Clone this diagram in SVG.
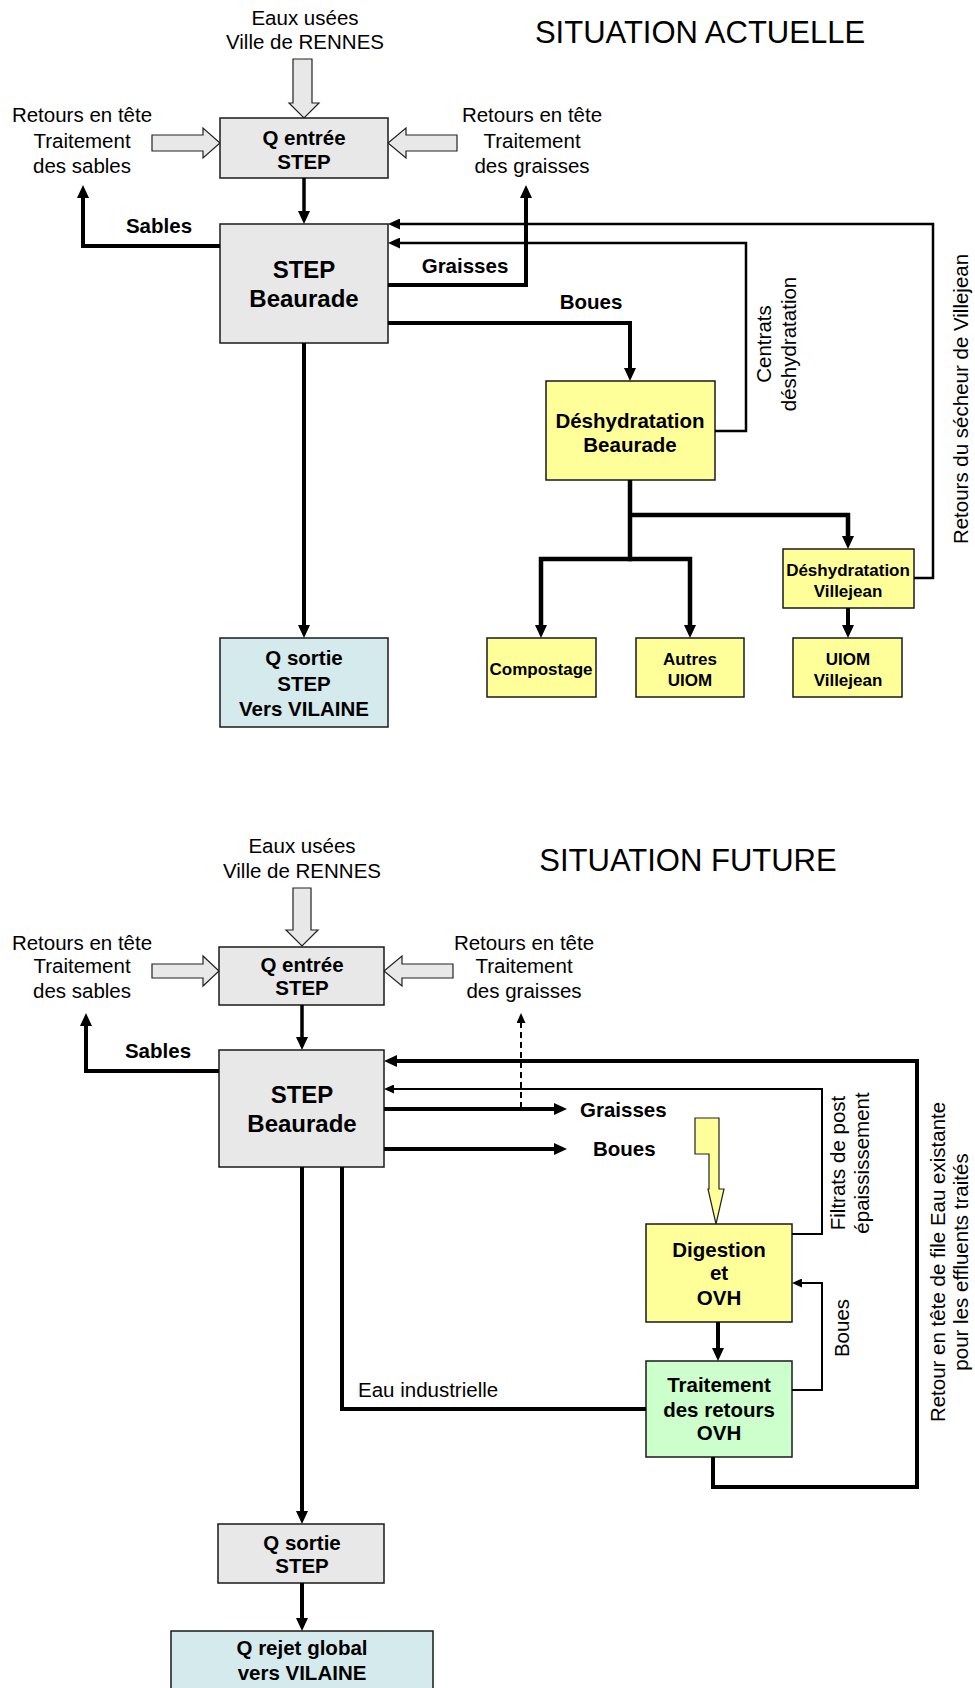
<svg xmlns="http://www.w3.org/2000/svg" width="975" height="1688" viewBox="0 0 975 1688">
<style>
text{font-family:"Liberation Sans",Arial,sans-serif;fill:#000}
.t{font-size:20.5px}
.b{font-size:20.5px;font-weight:bold}
.bb{font-size:24px;font-weight:bold}
.sb{font-size:17px;font-weight:bold}
.title{font-size:31px}
.m{text-anchor:middle}
.box{stroke:#1a1a1a;stroke-width:1.5}
.gray{fill:#e8e8e8}
.yel{fill:#ffff99}
.grn{fill:#ccffcc}
.blu{fill:#d5eaec}
.hol{fill:#e8e8e8;stroke:#222;stroke-width:1.2}
.k{fill:none;stroke:#000;stroke-width:4;stroke-linejoin:miter}
.k35{fill:none;stroke:#000;stroke-width:3.5}
.k45{fill:none;stroke:#000;stroke-width:4.5;stroke-linejoin:miter}
.n{fill:none;stroke:#000;stroke-width:2.5}
.n2{fill:none;stroke:#000;stroke-width:2}
.d{fill:none;stroke:#000;stroke-width:2;stroke-dasharray:6 4}
</style>
<defs>
<marker id="ah" markerUnits="userSpaceOnUse" markerWidth="13" markerHeight="12" viewBox="0 0 13 12" refX="3" refY="6" orient="auto"><path d="M0,0 L13,6 L0,12 z" fill="#000"/></marker>
<marker id="am" markerUnits="userSpaceOnUse" markerWidth="12" markerHeight="11" viewBox="0 0 12 11" refX="3" refY="5.5" orient="auto"><path d="M0,0 L12,5.5 L0,11 z" fill="#000"/></marker>
<marker id="as" markerUnits="userSpaceOnUse" markerWidth="10" markerHeight="9" viewBox="0 0 10 9" refX="3" refY="4.5" orient="auto"><path d="M0,0 L10,4.5 L0,9 z" fill="#000"/></marker>
</defs>

<!-- ================= SITUATION ACTUELLE ================= -->
<text class="title m" x="700" y="43">SITUATION ACTUELLE</text>

<g id="a-eaux">
<text class="t m" x="305" y="25">Eaux usées</text>
<text class="t m" x="305" y="49">Ville de RENNES</text>
<polygon class="hol" points="293,59 312,59 312,103 319,103 304,118 289,103 293,103"/>
</g>
<g id="a-ret-sables">
<text class="t m" x="82" y="122">Retours en tête</text>
<text class="t m" x="82" y="148">Traitement</text>
<text class="t m" x="82" y="173">des sables</text>
<polygon class="hol" points="152,135 203,135 203,128 220,143 203,158 203,151 152,151"/>
</g>
<g id="a-ret-graisses">
<text class="t m" x="532" y="122">Retours en tête</text>
<text class="t m" x="532" y="148">Traitement</text>
<text class="t m" x="532" y="173">des graisses</text>
<polygon class="hol" points="457,135 406,135 406,128 388,143 406,158 406,151 457,151"/>
</g>
<g id="a-qentree">
<rect class="box gray" x="220" y="118" width="168" height="60"/>
<text class="b m" x="304" y="145">Q entrée</text>
<text class="b m" x="304" y="169">STEP</text>
</g>
<g id="a-step">
<rect class="box gray" x="220" y="224" width="168" height="119"/>
<text class="bb m" x="304" y="278">STEP</text>
<text class="bb m" x="304" y="307">Beaurade</text>
</g>
<g id="a-deshy-beaurade">
<rect class="box yel" x="546" y="381" width="169" height="99"/>
<text class="b m" x="630" y="428">Déshydratation</text>
<text class="b m" x="630" y="452">Beaurade</text>
</g>
<g id="a-deshy-villejean">
<rect class="box yel" x="783" y="549" width="131" height="59"/>
<text class="sb m" x="848" y="576">Déshydratation</text>
<text class="sb m" x="848" y="597">Villejean</text>
</g>
<g id="a-compostage">
<rect class="box yel" x="487" y="638" width="109" height="59"/>
<text class="sb m" x="541" y="675">Compostage</text>
</g>
<g id="a-autres">
<rect class="box yel" x="636" y="638" width="108" height="59"/>
<text class="sb m" x="690" y="665">Autres</text>
<text class="sb m" x="690" y="686">UIOM</text>
</g>
<g id="a-uiom-villejean">
<rect class="box yel" x="793" y="638" width="109" height="59"/>
<text class="sb m" x="848" y="665">UIOM</text>
<text class="sb m" x="848" y="686">Villejean</text>
</g>
<g id="a-qsortie">
<rect class="box blu" x="220" y="638" width="168" height="89"/>
<text class="b m" x="304" y="665">Q sortie</text>
<text class="b m" x="304" y="691">STEP</text>
<text class="b m" x="304" y="716">Vers VILAINE</text>
</g>

<g id="a-connectors">
<path class="k35" d="M304,178 V214" marker-end="url(#ah)"/>
<path class="k" d="M220,246 H83 V195" marker-end="url(#ah)"/>
<path class="n" d="M914,578 H933 V224 H397" marker-end="url(#am)"/>
<path class="n" d="M715,431 H746 V243 H397" marker-end="url(#am)"/>
<path class="k" d="M388,285 H526 V195" marker-end="url(#ah)"/>
<path class="k" d="M388,323 H630 V371" marker-end="url(#ah)"/>
<path class="k45" d="M630,480 V561"/>
<path class="k45" d="M630,515 H848 V539" marker-end="url(#ah)"/>
<path class="k45" d="M632,559 H541 V628" marker-end="url(#ah)"/>
<path class="k45" d="M628,559 H690 V628" marker-end="url(#ah)"/>
<path class="k" d="M848,608 V628" marker-end="url(#ah)"/>
<path class="k" d="M304,343 V628" marker-end="url(#ah)"/>
<text class="b m" x="159" y="233">Sables</text>
<text class="b m" x="465" y="273">Graisses</text>
<text class="b m" x="591" y="309">Boues</text>
<text class="t m" transform="translate(771,344) rotate(-90)"><tspan x="0" y="0">Centrats</tspan><tspan x="0" y="25">déshydratation</tspan></text>
<text class="t m" transform="translate(968,399) rotate(-90)">Retours du sécheur de Villejean</text>
</g>

<!-- ================= SITUATION FUTURE ================= -->
<text class="title m" x="688" y="871">SITUATION FUTURE</text>

<g id="f-eaux">
<text class="t m" x="302" y="853">Eaux usées</text>
<text class="t m" x="302" y="878">Ville de RENNES</text>
<polygon class="hol" points="293,888 311,888 311,930 318,930 302,946 286,930 293,930"/>
</g>
<g id="f-ret-sables">
<text class="t m" x="82" y="950">Retours en tête</text>
<text class="t m" x="82" y="973">Traitement</text>
<text class="t m" x="82" y="998">des sables</text>
<polygon class="hol" points="152,964 203,964 203,956 219,971 203,986 203,978 152,978"/>
</g>
<g id="f-ret-graisses">
<text class="t m" x="524" y="950">Retours en tête</text>
<text class="t m" x="524" y="973">Traitement</text>
<text class="t m" x="524" y="998">des graisses</text>
<polygon class="hol" points="453,964 402,964 402,956 384,971 402,986 402,978 453,978"/>
</g>
<g id="f-qentree">
<rect class="box gray" x="219" y="947" width="165" height="58"/>
<text class="b m" x="302" y="972">Q entrée</text>
<text class="b m" x="302" y="995">STEP</text>
</g>
<g id="f-step">
<rect class="box gray" x="219" y="1050" width="165" height="117"/>
<text class="bb m" x="302" y="1103">STEP</text>
<text class="bb m" x="302" y="1132">Beaurade</text>
</g>
<g id="f-apport">
<polygon fill="#ffff99" stroke="#222" stroke-width="1.2" points="695,1118 719,1118 719,1189 724,1189 716,1224 708,1189 709,1189 709,1154 695,1154"/>
</g>
<g id="f-digestion">
<rect class="box yel" x="646" y="1224" width="146" height="98"/>
<text class="b m" x="719" y="1257">Digestion</text>
<text class="b m" x="719" y="1280">et</text>
<text class="b m" x="719" y="1305">OVH</text>
</g>
<g id="f-traitement">
<rect class="box grn" x="646" y="1361" width="146" height="96"/>
<text class="b m" x="719" y="1392">Traitement</text>
<text class="b m" x="719" y="1417">des retours</text>
<text class="b m" x="719" y="1440">OVH</text>
</g>
<g id="f-qsortie">
<rect class="box gray" x="218" y="1524" width="166" height="59"/>
<text class="b m" x="302" y="1550">Q sortie</text>
<text class="b m" x="302" y="1573">STEP</text>
</g>
<g id="f-qrejet">
<rect class="box blu" x="171" y="1631" width="262" height="62"/>
<text class="b m" x="302" y="1655">Q rejet global</text>
<text class="b m" x="302" y="1680">vers VILAINE</text>
</g>

<g id="f-connectors">
<path class="k35" d="M302,1005 V1040" marker-end="url(#ah)"/>
<path class="k" d="M219,1071 H86 V1023" marker-end="url(#ah)"/>
<path class="k" d="M713,1457 V1487 H917 V1061 H394" marker-end="url(#ah)"/>
<path class="n2" d="M792,1234 H822 V1089 H391" marker-end="url(#as)"/>
<path class="k" d="M384,1109 H557" marker-end="url(#ah)"/>
<path class="k" d="M384,1149 H557" marker-end="url(#ah)"/>
<path class="d" d="M521,1108 V1020" marker-end="url(#as)"/>
<path class="k" d="M718,1322 V1351" marker-end="url(#ah)"/>
<path class="n2" d="M792,1390 H822 V1283 H799" marker-end="url(#as)"/>
<path class="k" d="M342,1167 V1409 H646"/>
<path class="k" d="M302,1167 V1514" marker-end="url(#ah)"/>
<path class="k" d="M302,1583 V1621" marker-end="url(#ah)"/>
<text class="b m" x="158" y="1058">Sables</text>
<text class="b" x="580" y="1117">Graisses</text>
<text class="b" x="593" y="1156">Boues</text>
<text class="t" x="358" y="1397">Eau industrielle</text>
<text class="t m" transform="translate(849,1328) rotate(-90)">Boues</text>
<text class="t m" transform="translate(845,1163) rotate(-90)"><tspan x="0" y="0">Filtrats de post</tspan><tspan x="0" y="24">épaississement</tspan></text>
<text class="t m" transform="translate(945,1262) rotate(-90)"><tspan x="0" y="0">Retour en tête de file Eau existante</tspan><tspan x="0" y="23">pour les effluents traités</tspan></text>
</g>
</svg>
